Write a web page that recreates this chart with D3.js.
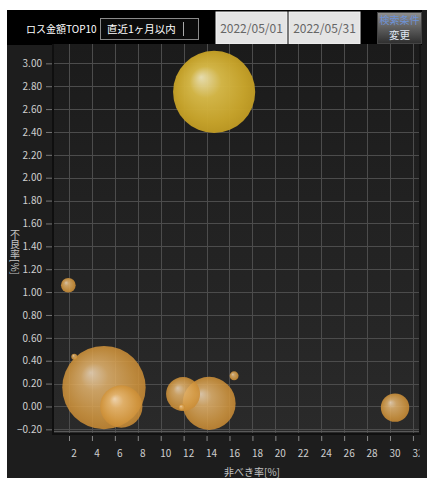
<!DOCTYPE html>
<html><head><meta charset="utf-8">
<script src="https://cdn.jsdelivr.net/npm/d3@7/dist/d3.min.js"></script>
<style>
html,body{margin:0;padding:0;background:#fff;}
svg{display:block;}
text{font-family:"Noto Sans CJK JP","Noto Sans",sans-serif;}
</style></head>
<body>
<svg id="chart" width="427" height="478"></svg>
<script>
// ---- data ----
const itemNames = ["品目A","品目B","品目C","品目D","品目E","品目F","品目G","品目H","品目I","品目J"];
const xValues   = [14.66, 1.94, 5.05, 2.46, 6.56, 11.95, 14.22, 11.84, 16.40, 30.44]; // 非べき率[%]
const yValues   = [2.75, 1.06, 0.165, 0.435, 0.00, 0.108, 0.027, -0.008, 0.268, -0.01]; // 不良率[%]
const lossValues = [97, 3.1, 100, 0.52, 25.8, 16.6, 40.4, 0.52, 1.16, 11.6];         // ロス金額
const xTicks = [2,4,6,8,10,12,14,16,18,20,22,24,26,28,30,32];
const yTicks = [-0.2,0,0.2,0.4,0.6,0.8,1.0,1.2,1.4,1.6,1.8,2.0,2.2,2.4,2.6,2.8,3.0];
const headerTitle = "ロス金額TOP10";
const periodLabel = "直近1ヶ月以内";
const dateFrom = "2022/05/01";
const dateTo = "2022/05/31";
const buttonLines = ["検索条件","変更"];
const xTitle = "非べき率[%]";
const yTitle = "不良率[%]";

const svg = d3.select("#chart");
const defs = svg.append("defs");

// background
svg.append("rect").attr("x",7).attr("y",10).attr("width",420).attr("height",468).attr("fill","#1d1d1d");
svg.append("rect").attr("x",7).attr("y",10).attr("width",415).attr("height",35).attr("fill","#000");

// ---- header ----
const hy = 29;
svg.append("text").attr("x",26).attr("y",hy).attr("dy","0.35em").attr("fill","#fff")
  .attr("font-size",10).text(headerTitle);
svg.append("rect").attr("x",100.5).attr("y",18.5).attr("width",98).attr("height",21)
  .attr("fill","#0b0b0b").attr("stroke","#8a8a8a");
svg.append("line").attr("x1",183.5).attr("x2",183.5).attr("y1",22).attr("y2",36).attr("stroke","#aaa");
svg.append("text").attr("x",107).attr("y",hy).attr("dy","0.35em").attr("fill","#fff")
  .attr("font-size",10.5).text(periodLabel);
[[216,dateFrom],[289,dateTo]].forEach(([bx,t])=>{
  svg.append("rect").attr("x",bx).attr("y",12).attr("width",71).attr("height",32)
    .attr("fill","#e4e4e4").attr("stroke","#f3f3f3");
  svg.append("text").attr("x",bx+35.5).attr("y",hy).attr("dy","0.35em").attr("text-anchor","middle")
    .attr("fill","#666").attr("font-size",12).attr("font-family","'Open Sans',sans-serif").text(t);
});
const bg = defs.append("linearGradient").attr("id","btn").attr("x1",0).attr("x2",0).attr("y1",0).attr("y2",1);
bg.append("stop").attr("offset","0%").attr("stop-color","#8f8f8f");
bg.append("stop").attr("offset","100%").attr("stop-color","#2e2e2e");
svg.append("rect").attr("x",377.5).attr("y",12.5).attr("width",44).attr("height",31)
  .attr("fill","url(#btn)").attr("stroke","#444");
svg.append("text").attr("x",399.5).attr("y",20.5).attr("dy","0.35em").attr("text-anchor","middle")
  .attr("fill","#6d92d6").attr("font-size",10).text(buttonLines[0]);
svg.append("text").attr("x",399.5).attr("y",35.5).attr("dy","0.35em").attr("text-anchor","middle")
  .attr("fill","#dfe6f2").attr("font-size",10.5).text(buttonLines[1]);

// ---- plot ----
const P = {l:53, r:419, t:44, b:433};
const x = d3.scaleLinear().domain([0.604, 32.53]).range([P.l, P.r]);
const y = d3.scaleLinear().domain([-0.232, 3.169]).range([P.b, P.t]);
const rScale = d3.scaleSqrt().domain([0, d3.max(lossValues)]).range([0, 41.7]);

const pg = defs.append("linearGradient").attr("id","plotbg").attr("x1",0).attr("x2",0).attr("y1",0).attr("y2",1);
pg.append("stop").attr("offset","0%").attr("stop-color","#1b1b1b");
pg.append("stop").attr("offset","100%").attr("stop-color","#2a2a2a");
svg.append("rect").attr("x",P.l).attr("y",P.t).attr("width",P.r-P.l).attr("height",P.b-P.t)
  .attr("fill","url(#plotbg)");

// grid
const grid = svg.append("g").attr("stroke","#4c4c4c").attr("stroke-width",1);
grid.selectAll(".gx").data(xTicks).join("line")
  .attr("x1",d=>Math.round(x(d))+0.5).attr("x2",d=>Math.round(x(d))+0.5)
  .attr("y1",P.t).attr("y2",P.b);
grid.selectAll(".gy").data(yTicks).join("line")
  .attr("y1",d=>Math.round(y(d))+0.5).attr("y2",d=>Math.round(y(d))+0.5)
  .attr("x1",P.l).attr("x2",P.r);
// floor bevel
svg.append("line").attr("x1",P.l).attr("x2",P.r).attr("y1",431.5).attr("y2",431.5).attr("stroke","#5a5a5a");
svg.append("rect").attr("x",P.l).attr("y",433).attr("width",P.r-P.l).attr("height",2).attr("fill","#101010");
svg.append("rect").attr("x",P.l-1).attr("y",P.t).attr("width",2).attr("height",P.b-P.t+2).attr("fill","#0f0f0f");
svg.append("rect").attr("x",P.r).attr("y",P.t).attr("width",2).attr("height",P.b-P.t+2).attr("fill","#141414");

// axes
const yAxis = svg.append("g").attr("transform",`translate(${P.l-1},0)`)
  .call(d3.axisLeft(y).tickValues(yTicks).tickFormat(d3.format(".2f")).tickSize(6).tickPadding(4));
yAxis.select(".domain").remove();
yAxis.selectAll(".tick line").attr("stroke","#777");
yAxis.selectAll("text").attr("fill","#cfcfcf").attr("font-size",10)
  .attr("font-family","'Open Sans',sans-serif");

defs.append("clipPath").attr("id","xclip").append("rect").attr("x",0).attr("y",0).attr("width",419.5).attr("height",478);
const xAxis = svg.append("g").attr("clip-path","url(#xclip)").append("g")
  .attr("transform",`translate(0,${P.b+3})`)
  .call(d3.axisBottom(x).tickValues(xTicks).tickFormat(d3.format("d")).tickSize(5).tickPadding(9));
xAxis.select(".domain").remove();
xAxis.selectAll(".tick line").attr("stroke","#888");
xAxis.selectAll("text").attr("fill","#cfcfcf").attr("font-size",10).attr("dx",4.5)
  .attr("font-family","'Open Sans',sans-serif");

svg.append("text").attr("x",252).attr("y",472).attr("dy","0.35em").attr("text-anchor","middle")
  .attr("fill","#c4c4c4").attr("font-size",10).text(xTitle);
svg.append("text").attr("x",15).attr("y",229).attr("fill","#c4c4c4").attr("font-size",10)
  .style("writing-mode","vertical-rl").text(yTitle);

// bubble gradients
function grad(id, stops){
  const g = defs.append("radialGradient").attr("id",id)
    .attr("cx","50%").attr("cy","50%").attr("r","55%").attr("fx","34%").attr("fy","32%");
  stops.forEach(([o,c])=>g.append("stop").attr("offset",o).attr("stop-color",c));
}
grad("orange",[["0%","#f4dcbc"],["30%","#e4b46e"],["75%","#d49840"],["100%","#c78730"]]);
grad("gold",[["0%","#ece2b4"],["35%","#d7b948"],["75%","#c9a52b"],["100%","#bb9620"]]);

const data = xValues.map((v,i)=>({name:itemNames[i], x:v, y:yValues[i], loss:lossValues[i]}));
const maxY = d3.max(yValues);
const plot = svg.append("g");
plot.selectAll("circle").data(data.slice().sort((a,b)=>b.loss-a.loss)).join("circle")
  .attr("cx",d=>x(d.x)).attr("cy",d=>y(d.y)).attr("r",d=>rScale(d.loss))
  .attr("fill",d=>d.y===maxY?"url(#gold)":"url(#orange)")
  .attr("fill-opacity",d=>d.y===maxY?0.97:0.86);
</script>
</body></html>
